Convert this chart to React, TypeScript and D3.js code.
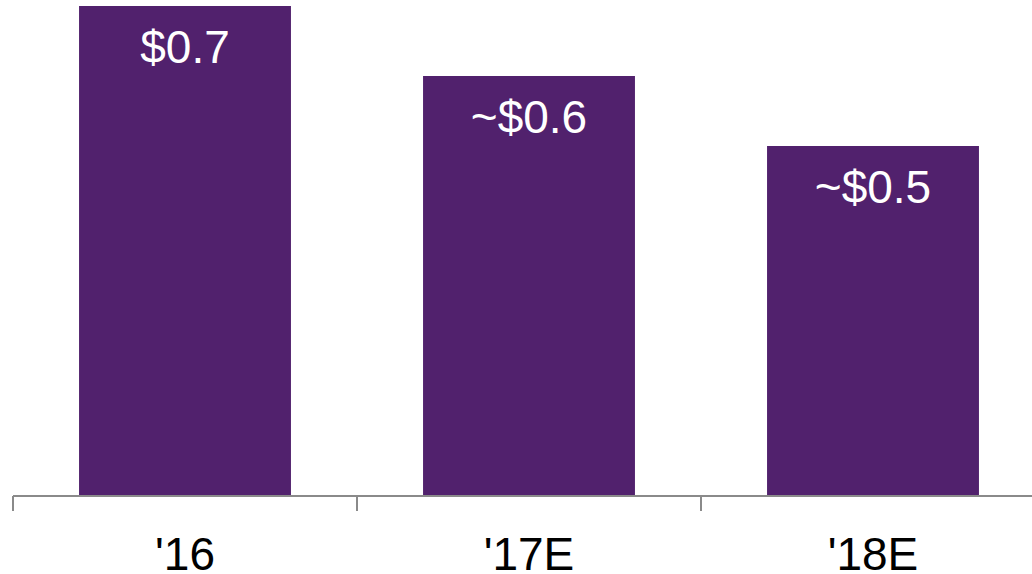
import React from "react";
import * as d3 from "d3";

const categories = ["'16", "'17E", "'18E"];
const values = [0.7, 0.6, 0.5];
const valueLabels = ["$0.7", "~$0.6", "~$0.5"];

export default function App() {
  const W = 1032;
  const H = 574;
  const x = d3
    .scaleBand<string>()
    .domain(categories)
    .range([13, 1045])
    .paddingInner(0.384)
    .paddingOuter(0.192);
  const y = d3.scaleLinear().domain([0, 0.7]).range([496, 6]);
  const step = x.step();
  const boundaries = d3.range(categories.length + 1).map((i) => 13 + i * step);
  const font = "'Liberation Sans', Arial, sans-serif";

  return (
    <svg
      width={W}
      height={H}
      style={{ position: "absolute", left: 0, top: 0 }}
      fontFamily={font}
    >
      {categories.map((c, i) => (
        <g key={c}>
          <rect
            x={x(c)}
            y={y(values[i])}
            width={x.bandwidth()}
            height={y(0) - y(values[i])}
            fill="#51216D"
          />
          <text
            x={(x(c) as number) + x.bandwidth() / 2}
            y={y(values[i]) + 57}
            textAnchor="middle"
            fill="#ffffff"
            fontSize={46}
          >
            {valueLabels[i]}
          </text>
          <text
            x={(x(c) as number) + x.bandwidth() / 2}
            y={570}
            textAnchor="middle"
            fill="#000000"
            fontSize={46}
          >
            {c}
          </text>
        </g>
      ))}
      <line x1={13} x2={1045} y1={y(0)} y2={y(0)} stroke="#8A8A8A" strokeWidth={2} />
      {boundaries.map((bx, i) => (
        <line key={i} x1={bx} x2={bx} y1={y(0)} y2={511} stroke="#8A8A8A" strokeWidth={2} />
      ))}
    </svg>
  );
}
